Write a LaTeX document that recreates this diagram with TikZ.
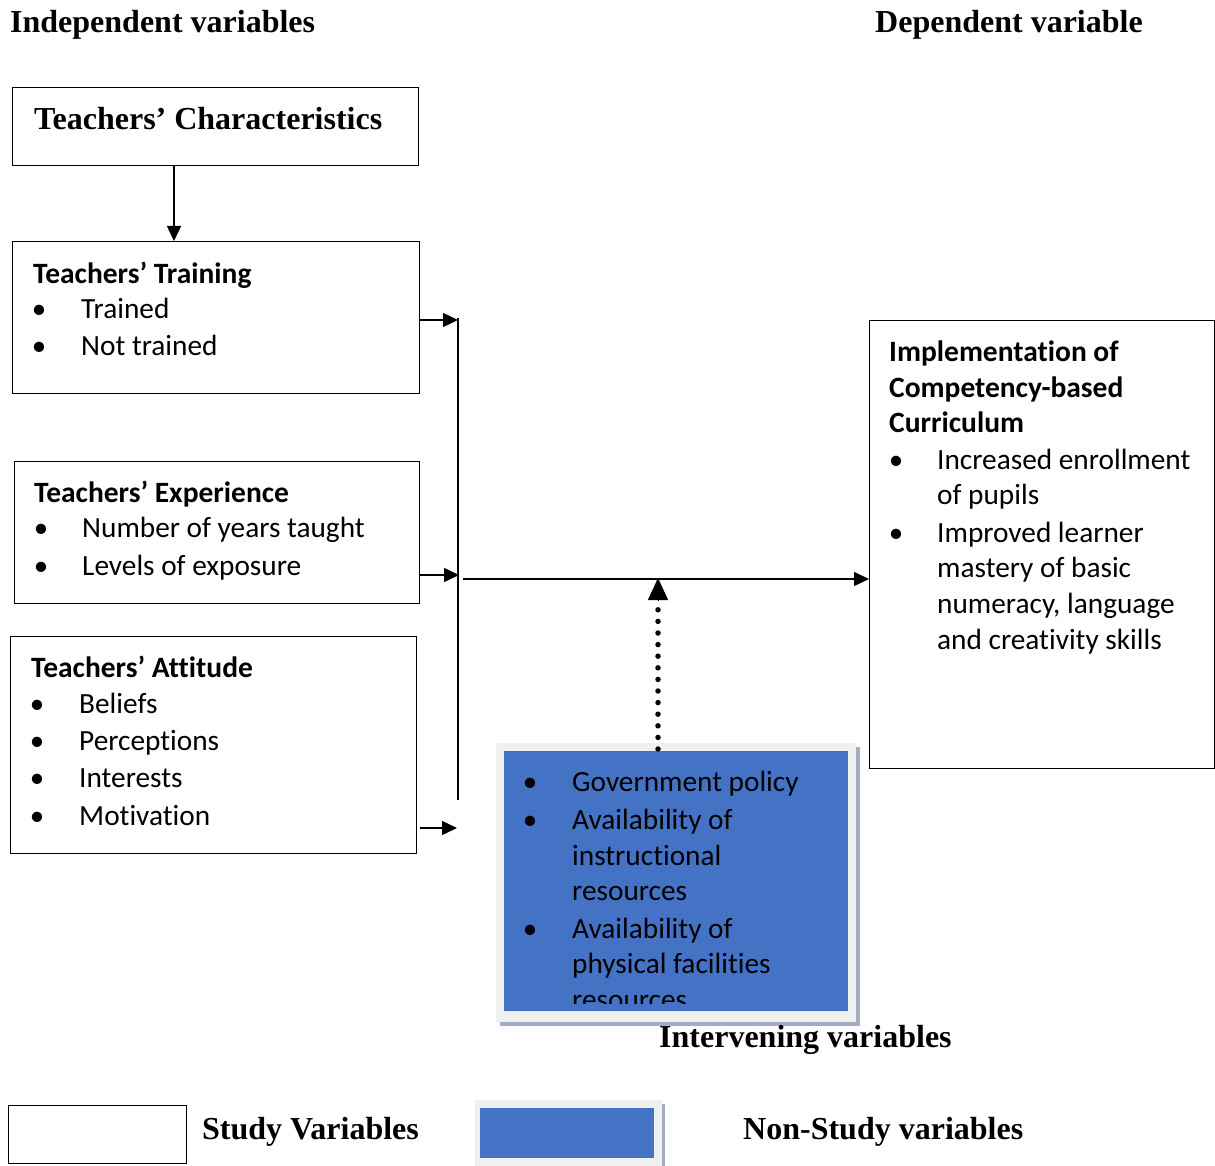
\documentclass[tikz,border=0pt]{standalone}
\usepackage{fontspec}
\setmainfont{Liberation Serif}
\newfontfamily\calfont[Ligatures=NoCommon]{Carlito}
\usetikzlibrary{arrows.meta,calc}
\definecolor{nsblue}{HTML}{4472C4}
\definecolor{nsframe}{HTML}{F0F0F0}
\definecolor{nsshadow}{HTML}{A3AEC6}
\begin{document}
\begin{tikzpicture}[x=1pt,y=-1pt,
  box/.style={draw, line width=1.4pt, inner sep=0pt, anchor=north west},
  body/.style={font=\calfont\fontsize{29.3}{33}\selectfont, anchor=mid west, inner sep=0pt, yshift=-3pt},
  ttl/.style={font=\calfont\bfseries\fontsize{29.5}{33}\selectfont, anchor=mid west, inner sep=0pt, yshift=-3pt},
  head/.style={font=\bfseries\fontsize{32}{36}\selectfont, anchor=mid west, inner sep=0pt, yshift=-2pt},
  bul/.style={font=\calfont\fontsize{29}{33}\selectfont, anchor=mid, inner sep=0pt, yshift=-3pt},
  arr/.style={line width=1.4pt, -{Triangle[length=15pt,width=14pt]}}]
\useasboundingbox (0,0) rectangle (1215,1166);

% headings
\node[head] (hind) at (10,28) {Independent variables};
\node[head] (hdep) at (875,28) {Dependent variable};

% boxes
\node[box, minimum width=406pt, minimum height=78pt] (tc) at (12,87) {};
\node[box, minimum width=407pt, minimum height=152pt] (tt) at (12,241) {};
\node[box, minimum width=405pt, minimum height=142pt] (te) at (14,461) {};
\node[box, minimum width=406pt, minimum height=217pt] (ta) at (10,636) {};
\node[box, minimum width=345pt, minimum height=448pt] (cbc) at (869,320) {};

% box texts
\node[head] (tctxt) at (34,125) {Teachers’ Characteristics};

\node[ttl] (ttt) at (33,278) {Teachers’ Training};
\node[bul] (ttb1) at (39,313) {•}; \node[body] (tti1) at (81,313) {Trained};
\node[bul] (ttb2) at (39,350) {•}; \node[body] (tti2) at (81,350) {Not trained};

\node[ttl] (tet) at (34,497) {Teachers’ Experience};
\node[bul] (teb1) at (41,532) {•}; \node[body] (tei1) at (82,532) {Number of years taught};
\node[bul] (teb2) at (41,570) {•}; \node[body] (tei2) at (82,570) {Levels of exposure};

\node[ttl] (tat) at (31,672) {Teachers’ Attitude};
\node[bul] (tab1) at (37,708) {•}; \node[body] (tai1) at (79,708) {Beliefs};
\node[bul] (tab2) at (37,745) {•}; \node[body] (tai2) at (79,745) {Perceptions};
\node[bul] (tab3) at (37,782) {•}; \node[body] (tai3) at (79,782) {Interests};
\node[bul] (tab4) at (37,820) {•}; \node[body] (tai4) at (79,820) {Motivation};

\node[ttl] (ct1) at (889,356) {Implementation of};
\node[ttl] (ct2) at (889,392) {Competency-based};
\node[ttl] (ct3) at (889,427) {Curriculum};
\node[bul] (cb1) at (896,464) {•}; \node[body] (ci1) at (937,464) {Increased enrollment};
\node[body] (ci1b) at (937,499) {of pupils};
\node[bul] (cb2) at (896,537) {•}; \node[body] (ci2) at (937,537) {Improved learner};
\node[body] (ci2b) at (937,572) {mastery of basic};
\node[body] (ci2c) at (937,608) {numeracy, language};
\node[body] (ci2d) at (937,644) {and creativity skills};

% intervening (non-study) box
\fill[nsshadow] (500,747) rectangle (860,1026);
\node[anchor=north west, fill=nsframe, inner sep=0pt, minimum width=360pt, minimum height=279pt] (ivframe) at (496,743) {};
\node[anchor=north west, fill=nsblue, inner sep=0pt, minimum width=344pt, minimum height=260pt] (iv) at (504,751) {};
\begin{scope}
\clip (504,751) rectangle (848,1003);
\node[bul] (ib1) at (530,786) {•}; \node[body] (ii1) at (572,786) {Government policy};
\node[bul] (ib2) at (530,824) {•}; \node[body] (ii2) at (572,824) {Availability of};
\node[body] (ii2b) at (572,860) {instructional};
\node[body] (ii2c) at (572,895) {resources};
\node[bul] (ib3) at (530,933) {•}; \node[body] (ii3) at (572,933) {Availability of};
\node[body] (ii3b) at (572,968) {physical facilities};
\node[body] (ii3c) at (572,1004) {resources};
\end{scope}
\node[head] (hint) at (659,1043) {Intervening variables};

% connectors
\coordinate (bustop) at (458,318);
\coordinate (busbot) at (458,800);
\draw[line width=1.4pt] (bustop) -- (busbot);
\draw[arr] (tc.south west -| 174,0) -- (tt.north west -| 174,0);
\coordinate (a1) at (458,320);
\coordinate (a2) at (459,575);
\coordinate (a3s) at (420,828);
\coordinate (a3e) at (457,828);
\draw[arr] (tt.east |- a1) -- (a1);
\draw[arr] (te.east |- a2) -- (a2);
\draw[arr] (a3s) -- (a3e);
\coordinate (hstart) at (463,579);
\draw[arr] (hstart) -- (cbc.west |- hstart);
\coordinate (dtop) at (658,578);
\coordinate (dmid) at (658,600);
\draw[line width=5.5pt, line cap=round, dash pattern=on 0pt off 11.6pt] (iv.north -| dtop) ++(0,-2) -- (dmid);
\draw[line width=1pt, -{Triangle[length=22pt,width=20pt]}] (dmid) -- (dtop);

% legend
\node[box, minimum width=178pt, minimum height=58pt] (lstudy) at (8,1105) {};
\node[head] (lstxt) at (202,1135) {Study Variables};
\fill[nsshadow] (662,1104) rectangle (665,1166);
\node[anchor=north west, fill=nsframe, inner sep=0pt, minimum width=187pt, minimum height=66pt] (lnsframe) at (475,1100) {};
\node[anchor=north west, fill=nsblue, inner sep=0pt, minimum width=174pt, minimum height=50pt] (lns) at (480,1108) {};
\node[head] (lntxt) at (743,1135) {Non-Study variables};
\end{tikzpicture}
\end{document}
